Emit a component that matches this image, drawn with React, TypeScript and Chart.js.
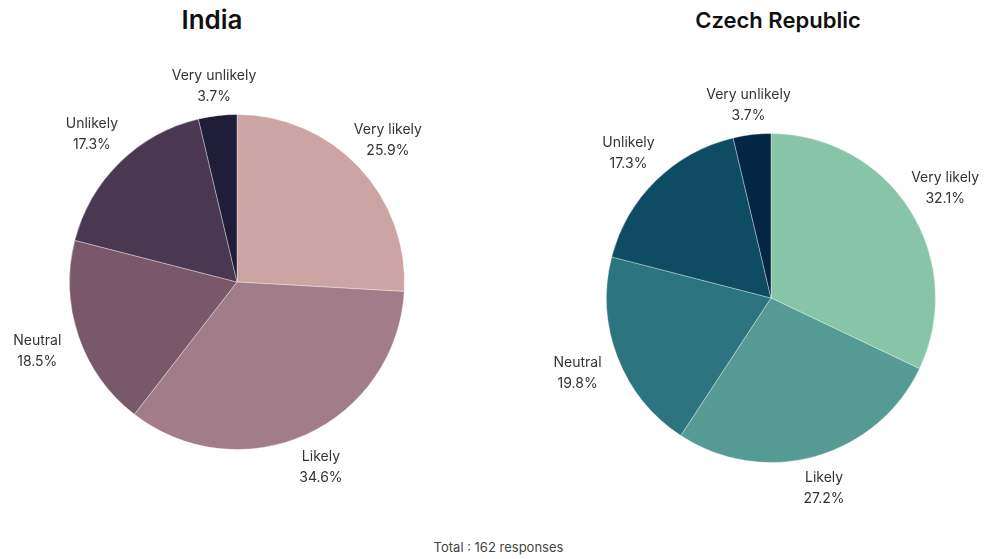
import React, { useEffect, useRef } from "react";
import { Chart, registerables } from "chart.js";

Chart.register(...registerables);

const categories = ["Very likely", "Likely", "Neutral", "Unlikely", "Very unlikely"];
const indiaValues = [25.9, 34.6, 18.5, 17.3, 3.7];
const czechValues = [32.1, 27.2, 19.8, 17.3, 3.7];
const indiaColors = ["#CDA4A4", "#A27C88", "#785869", "#4A3850", "#1F1D37"];
const czechColors = ["#88C4A8", "#559B94", "#2C7580", "#0E4C63", "#042645"];
const titles = ["India", "Czech Republic"];
const footer = "Total : 162 responses";

const FONT = "Inter, 'Noto Sans', sans-serif";

const outsideLabels = {
  id: "outsideLabels",
  afterDatasetsDraw(chart: any) {
    const ctx = chart.ctx;
    const meta = chart.getDatasetMeta(0);
    const data = chart.data.datasets[0].data as number[];
    const labels = chart.data.labels as string[];
    ctx.save();
    ctx.fillStyle = "#333333";
    ctx.font = `14px ${FONT}`;
    ctx.textAlign = "center";
    ctx.textBaseline = "middle";
    meta.data.forEach((arc: any, i: number) => {
      const { x, y, startAngle, endAngle, outerRadius } = arc.getProps(
        ["x", "y", "startAngle", "endAngle", "outerRadius"],
        true
      );
      const mid = (startAngle + endAngle) / 2;
      const d = outerRadius * 1.17 + 16 * Math.abs(Math.cos(mid));
      const cx = x + Math.cos(mid) * d;
      const cy = y + Math.sin(mid) * d;
      ctx.fillText(labels[i], cx, cy - 10);
      ctx.fillText(data[i].toFixed(1) + "%", cx, cy + 11);
    });
    ctx.restore();
  },
};

function PieChart(props: {
  values: number[];
  colors: string[];
  padding: { left: number; right: number; top: number; bottom: number };
}) {
  const ref = useRef<HTMLCanvasElement | null>(null);
  useEffect(() => {
    if (!ref.current) return;
    const chart = new Chart(ref.current, {
      type: "pie",
      data: {
        labels: categories,
        datasets: [
          {
            data: props.values,
            backgroundColor: props.colors,
            borderColor: "rgba(255,255,255,0.35)",
            borderWidth: 1,
          },
        ],
      },
      options: {
        animation: false,
        responsive: false,
        maintainAspectRatio: false,
        layout: { padding: props.padding },
        plugins: {
          legend: { display: false },
          tooltip: { enabled: false },
          title: { display: false },
        },
      },
      plugins: [outsideLabels],
    });
    return () => chart.destroy();
  }, []);
  return <canvas ref={ref} width={498} height={460} style={{ display: "block", width: 498, height: 460 }} />;
}

export default function App() {
  return (
    <div
      style={{
        position: "fixed",
        left: 0,
        top: 0,
        width: 997,
        height: 559,
        background: "#ffffff",
        fontFamily: FONT,
        overflow: "hidden",
      }}
    >
      <div
        style={{
          position: "absolute",
          left: 112,
          width: 200,
          top: 4,
          textAlign: "center",
          fontSize: 26,
          fontWeight: 600,
          color: "#111",
        }}
      >
        {titles[0]}
      </div>
      <div
        style={{
          position: "absolute",
          left: 628,
          width: 300,
          top: 7,
          textAlign: "center",
          fontSize: 22,
          fontWeight: 600,
          color: "#111",
        }}
      >
        {titles[1]}
      </div>
      <div style={{ position: "absolute", left: 0, top: 60 }}>
        <PieChart values={indiaValues} colors={indiaColors} padding={{ left: 69, right: 93, top: 54, bottom: 70 }} />
      </div>
      <div style={{ position: "absolute", left: 498, top: 60 }}>
        <PieChart values={czechValues} colors={czechColors} padding={{ left: 108, right: 60, top: 73, bottom: 57 }} />
      </div>
      <div
        style={{
          position: "absolute",
          left: 0,
          width: 997,
          top: 539,
          textAlign: "center",
          fontSize: 13,
          color: "#444",
        }}
      >
        {footer}
      </div>
    </div>
  );
}
